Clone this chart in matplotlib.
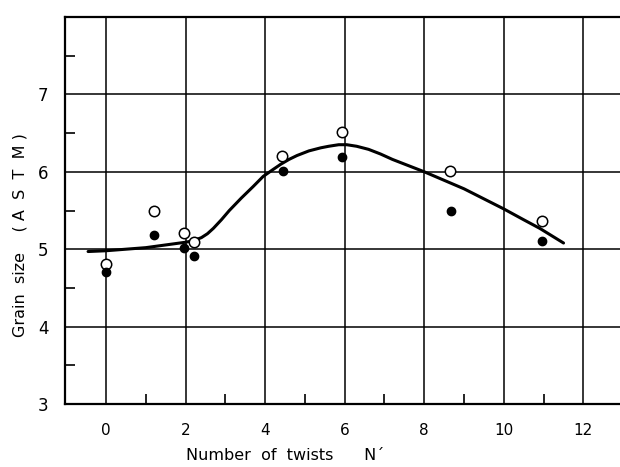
import matplotlib
matplotlib.use("Agg")
import matplotlib.pyplot as plt
from matplotlib.ticker import FixedLocator

# Data
open_x = [0.0, 1.2, 1.95, 2.2, 4.42, 5.92, 8.65, 10.95]
open_y = [4.81, 5.49, 5.21, 5.09, 6.21, 6.52, 6.01, 5.37]
filled_x = [0.0, 1.2, 1.97, 2.2, 4.45, 5.92, 8.67, 10.95]
filled_y = [4.71, 5.18, 5.01, 4.91, 6.01, 6.19, 5.5, 5.11]

curve_x = [-0.45, 0.0, 1.0, 2.0, 2.2, 2.4, 2.55, 2.7, 2.9, 3.1, 3.4, 3.7, 3.95,
           4.2, 4.4, 4.6, 4.8, 5.1, 5.4, 5.6, 5.85, 6.05, 6.3, 6.6, 6.9, 7.2,
           7.5, 8.0, 8.5, 9.0, 9.5, 10.0, 10.5, 10.9, 11.5]
curve_y = [4.97, 4.98, 5.02, 5.09, 5.11, 5.15, 5.2, 5.27, 5.38, 5.5, 5.66, 5.81,
           5.94, 6.03, 6.1, 6.16, 6.21, 6.27, 6.31, 6.33, 6.35, 6.35, 6.33,
           6.29, 6.23, 6.16, 6.1, 6.0, 5.89, 5.78, 5.65, 5.52, 5.38, 5.27, 5.08]

x_ticks = [0, 2, 4, 6, 8, 10, 12]
x_ticklabels = ["0", "2", "4", "6", "8", "10", "12"]
y_ticks = [3, 4, 5, 6, 7]
y_ticklabels = ["3", "4", "5", "6", "7"]

plt.rcParams['font.family'] = ['DejaVu Sans']

fig = plt.figure(figsize=(6.2, 4.67), dpi=100)
W, H = 620, 467
left, right, bottom, top = 65, 626, 404, 17
ax = fig.add_axes([left / W, (H - bottom) / H, (right - left) / W, (bottom - top) / H])

ax.set_xlim(-1.03, 13.07)
ax.set_ylim(3, 8)

ax.plot(curve_x, curve_y, color='black', lw=2.2, solid_capstyle='round',
        solid_joinstyle='round', zorder=3)
ax.plot(open_x, open_y, 'o', ms=7.5, mfc='white', mec='black', mew=1.1, zorder=4)
ax.plot(filled_x, filled_y, 'o', ms=6, mfc='black', mec='black', zorder=4)

# grid lines at majors
for xv in x_ticks:
    ax.axvline(xv, color='black', lw=1.1, zorder=1)
for yv in y_ticks[1:]:
    ax.axhline(yv, color='black', lw=1.1, zorder=1)

ax.xaxis.set_major_locator(FixedLocator(x_ticks))
ax.yaxis.set_major_locator(FixedLocator(y_ticks))
ax.set_xticklabels(x_ticklabels)
ax.set_yticklabels(y_ticklabels)
ax.xaxis.set_minor_locator(FixedLocator([1, 3, 5, 7, 9, 11]))
ax.yaxis.set_minor_locator(FixedLocator([3.5, 4.5, 5.5, 6.5, 7.5]))
ax.tick_params(which='major', length=0, labelsize=11, pad=14)
ax.tick_params(axis='y', which='major', pad=12, labelsize=12)
ax.tick_params(which='minor', direction='in', length=7, width=1.2)

for s in ['left', 'bottom', 'top']:
    ax.spines[s].set_linewidth(1.6)
ax.spines['right'].set_visible(False)

fig.text(20 / W, (H - 235) / H, "Grain  size    ( A  S  T  M )", rotation=90,
         ha='center', va='center', fontsize=11.5)
fig.text(285 / W, (H - 455) / H, "Number  of  twists      N\u00b4",
         ha='center', va='center', fontsize=11.5)

fig.savefig("out.png", dpi=100)
